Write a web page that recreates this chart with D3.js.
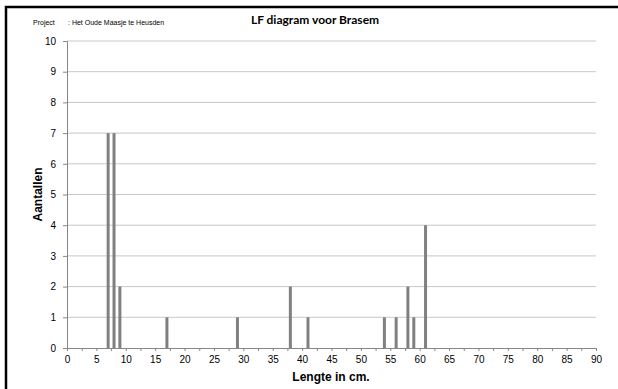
<!DOCTYPE html>
<html>
<head>
<meta charset="utf-8">
<script src="https://cdn.jsdelivr.net/npm/d3@7"></script>
<style>
  body { margin: 0; background: #fff; }
  svg { display: block; font-family: "Liberation Sans", Arial, Helvetica, sans-serif; }
</style>
</head>
<body>
<svg id="chart"></svg>
<script>
// lengteklassen (cm) en aantallen
const lengths = [7, 8, 9, 17, 29, 38, 41, 54, 56, 58, 59, 61];
const counts  = [7, 7, 2, 1, 1, 2, 1, 1, 1, 2, 1, 4];
const xTicks = d3.range(0, 91, 5);
const yTicks = d3.range(0, 11, 1);

const data = lengths.map((l, i) => ({ length: l, count: counts[i] }));

const W = 618, H = 389;
const font = "'Liberation Sans', Arial, Helvetica, sans-serif";
const margin = { top: 41, right: 22, bottom: 41, left: 67 };
const width = W - margin.left - margin.right,
      height = H - margin.top - margin.bottom;

const svg = d3.select("#chart").attr("width", W).attr("height", H);

// kader (rechts en onder buiten beeld)
svg.append("rect")
    .attr("x", 6).attr("y", 7)
    .attr("width", W + 20).attr("height", H + 20)
    .attr("fill", "#fff")
    .attr("stroke", "#000")
    .attr("stroke-width", 2.5);

const g = svg.append("g").attr("transform", `translate(${margin.left},${margin.top})`);

const x = d3.scaleLinear().domain([0, 90]).range([0, width]);
const y = d3.scaleLinear().domain([0, 10]).range([height, 0]);

// rasterlijnen
g.selectAll(".grid")
    .data(yTicks.filter(d => d > 0))
    .enter().append("line")
    .attr("x1", 0).attr("x2", width)
    .attr("y1", d => y(d)).attr("y2", d => y(d))
    .attr("stroke", "#c8c8c8")
    .attr("stroke-width", 1);

// staven
const barW = 3;
g.selectAll(".bar")
    .data(data)
    .enter().append("rect")
    .attr("class", "bar")
    .attr("x", d => x(d.length) - barW / 2)
    .attr("y", d => y(d.count))
    .attr("width", barW)
    .attr("height", d => height - y(d.count))
    .attr("fill", "#808080");

// y-as
const yAxis = g.append("g")
    .call(d3.axisLeft(y).tickValues(yTicks).tickSize(4).tickPadding(7));
// x-as
const xAxis = g.append("g")
    .attr("transform", `translate(0,${height})`)
    .call(d3.axisBottom(x).tickValues(d3.range(0, 90.1, 2.5)).tickSize(3).tickPadding(5)
        .tickFormat(d => xTicks.includes(d) ? d : ""));

[yAxis, xAxis].forEach(a => {
    a.select(".domain").attr("stroke", "#868686");
    a.selectAll(".tick line").attr("stroke", "#868686");
    a.selectAll("text")
        .style("font-family", font)
        .style("font-size", "10px")
        .attr("fill", "#000");
});

// titels
svg.append("text")
    .attr("x", 315).attr("y", 24)
    .attr("text-anchor", "middle")
    .style("font-family", "Lato, 'Open Sans', sans-serif")
    .style("font-weight", "bold")
    .style("font-size", "12px")
    .text("LF diagram voor Brasem");

svg.append("text")
    .attr("x", 33).attr("y", 25)
    .style("font-family", font)
    .style("font-size", "7px")
    .text("Project");
svg.append("text")
    .attr("x", 68).attr("y", 25)
    .style("font-family", font)
    .style("font-size", "7px")
    .text(": Het Oude Maasje te Heusden");

svg.append("text")
    .attr("x", 331).attr("y", 381)
    .attr("text-anchor", "middle")
    .style("font-family", font)
    .style("font-weight", "bold")
    .style("font-size", "12px")
    .text("Lengte in cm.");

svg.append("text")
    .attr("transform", `translate(42,${margin.top + height / 2}) rotate(-90)`)
    .attr("text-anchor", "middle")
    .style("font-family", font)
    .style("font-weight", "bold")
    .style("font-size", "12px")
    .text("Aantallen");
</script>
</body>
</html>
